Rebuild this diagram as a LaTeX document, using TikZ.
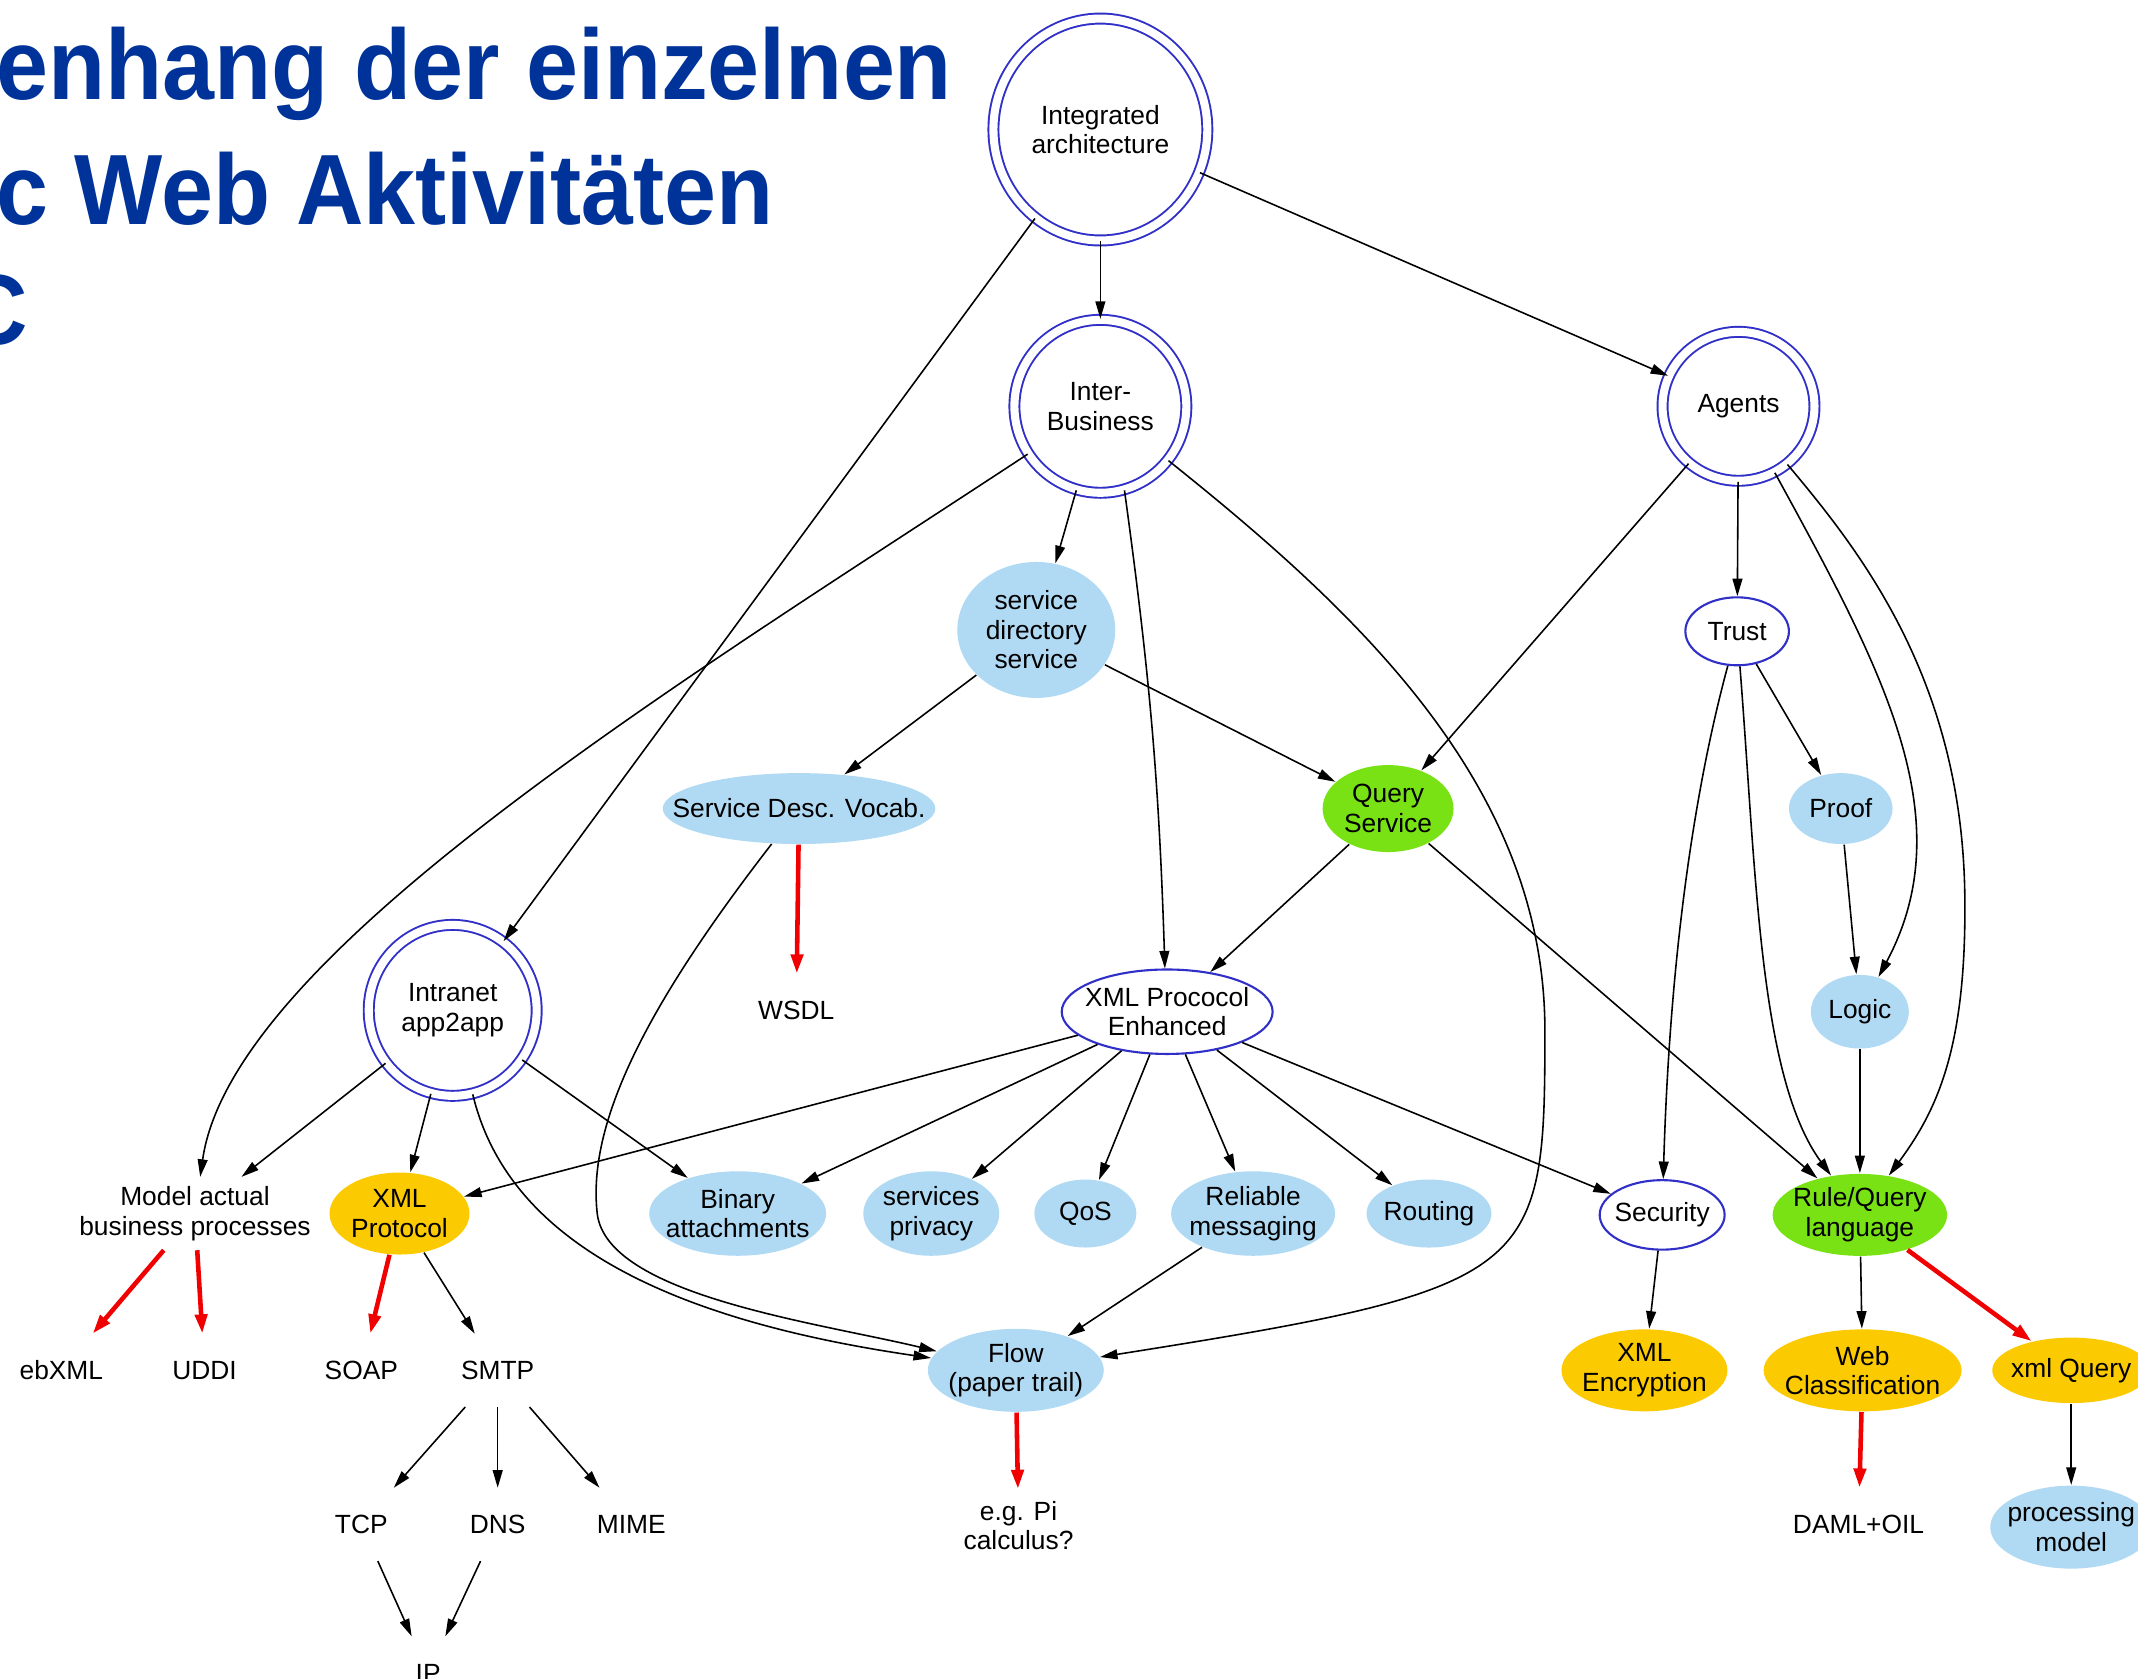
\documentclass[tikz,border=0pt]{standalone}
\usepackage{fontspec}
\usepackage{graphicx}
\setmainfont{Liberation Sans}
\usetikzlibrary{shapes.geometric,arrows.meta}

\definecolor{ringblue}{RGB}{48,48,200}
\definecolor{sky}{RGB}{176,218,244}
\definecolor{goldc}{RGB}{252,202,0}
\definecolor{limec}{RGB}{120,226,20}
\definecolor{redc}{RGB}{240,0,0}
\definecolor{titleblue}{RGB}{0,51,153}

% zero-width line, so that an ellipse takes its size from minimum width/height only
\newcommand{\zw}[1]{\makebox[0pt]{#1}}

\tikzset{
  lbl/.style={font=\fontsize{7.5}{8.4}\selectfont, align=center, text=black},
  dring/.style={lbl, ellipse, draw=ringblue, line width=0.55pt, double=white,
                double distance=2.3pt, fill=white, inner sep=0pt},
  bluering/.style={lbl, ellipse, draw=ringblue, line width=0.6pt, fill=white, inner sep=0pt},
  skyell/.style={lbl, ellipse, fill=sky, inner sep=0pt},
  goldell/.style={lbl, ellipse, fill=goldc, inner sep=0pt},
  greenell/.style={lbl, ellipse, fill=limec, inner sep=0pt},
  plain/.style={lbl, rectangle, inner xsep=2pt, inner ysep=0pt, minimum height=0.72cm},
  link/.style={-{Triangle[length=5pt,width=2.8pt]}, line width=0.45pt, black},
  redlink/.style={-{Triangle[length=5.5pt,width=3.4pt]}, line width=1.3pt, redc},
  titletext/.style={font=\fontsize{28.45}{30}\selectfont\bfseries, text=titleblue, inner sep=0pt},
}

\begin{document}
\begin{tikzpicture}[x=0.0136352cm, y=-0.0136352cm]
\fill[white] (0,0) rectangle (1568,1231);
\useasboundingbox (0,0) rectangle (1568,1231);

% heading
\node[titletext, anchor=base west] (title1) at (-3,73.3) {\scalebox{0.935}[1]{enhang der einzelnen}};
\node[titletext, anchor=base west] (title2) at (-3,165) {\scalebox{0.935}[1]{c Web Aktivitäten}};
\node[titletext, anchor=base east] (title3) at (21,253) {\scalebox{0.935}[1]{C}};

% top level areas
\node[dring, minimum width=2.14cm, minimum height=2.22cm] (int) at (807,95) {\zw{Integrated}\\\zw{architecture}};
\node[dring, minimum width=1.72cm, minimum height=1.73cm] (ib) at (807,298) {\zw{Inter-}\\\zw{Business}};
\node[dring, minimum width=1.52cm, minimum height=1.49cm] (ag) at (1275,298) {\zw{Agents}};
\node[dring, minimum width=1.68cm, minimum height=1.71cm] (intra) at (332,741) {\zw{Intranet}\\\zw{app2app}};

% second level
\node[skyell, minimum width=1.58cm, minimum height=1.36cm] (sds) at (760,462) {\zw{service}\\\zw{directory}\\\zw{service}};
\node[bluering, minimum width=1.036cm, minimum height=0.68cm] (trust) at (1274,463) {\zw{Trust}};
\node[skyell, minimum width=2.727cm, minimum height=0.709cm] (sdv) at (586,593) {\zw{Service Desc. Vocab.}};
\node[greenell, minimum width=1.31cm, minimum height=0.87cm] (qs) at (1018,593) {\zw{Query}\\\zw{Service}};
\node[skyell, minimum width=1.036cm, minimum height=0.709cm] (proof) at (1350,593) {\zw{Proof}};
\node[plain] (wsdl) at (584,741) {WSDL};
\node[bluering, minimum width=2.11cm, minimum height=0.845cm] (xmlpe) at (856,742) {\zw{XML Prococol}\\\zw{Enhanced}};
\node[skyell, minimum width=0.98cm, minimum height=0.736cm] (logic) at (1364,742) {\zw{Logic}};

% main row
\node[plain] (model) at (143,890) {Model actual\\business processes};
\node[goldell, minimum width=1.40cm, minimum height=0.82cm] (xmlp) at (293,890) {\zw{XML}\\\zw{Protocol}};
\node[skyell, minimum width=1.77cm, minimum height=0.845cm] (bin) at (541,890) {\zw{Binary}\\\zw{attachments}};
\node[skyell, minimum width=1.36cm, minimum height=0.845cm] (priv) at (683,890) {\zw{services}\\\zw{privacy}};
\node[skyell, minimum width=1.02cm, minimum height=0.68cm] (qos) at (796,890) {\zw{QoS}};
\node[skyell, minimum width=1.64cm, minimum height=0.845cm] (rel) at (919,890) {\zw{Reliable}\\\zw{messaging}};
\node[skyell, minimum width=1.25cm, minimum height=0.68cm] (rout) at (1048,890) {\zw{Routing}};
\node[bluering, minimum width=1.25cm, minimum height=0.695cm] (sec) at (1219,891) {\zw{Security}};
\node[greenell, minimum width=1.745cm, minimum height=0.82cm] (rq) at (1364,891) {\zw{Rule/Query}\\\zw{language}};

% lower rows
\node[plain] (ebxml) at (45,1005) {ebXML};
\node[plain] (uddi) at (150,1005) {UDDI};
\node[plain] (soap) at (265,1005) {SOAP};
\node[plain] (smtp) at (365,1005) {SMTP};
\node[skyell, minimum width=1.76cm, minimum height=0.83cm] (flow) at (745,1005) {\zw{Flow}\\\zw{(paper trail)}};
\node[goldell, minimum width=1.66cm, minimum height=0.82cm] (xenc) at (1206,1005) {\zw{XML}\\\zw{Encryption}};
\node[goldell, minimum width=1.98cm, minimum height=0.82cm] (webc) at (1366,1005) {\zw{Web}\\\zw{Classification}};
\node[goldell, minimum width=1.58cm, minimum height=0.655cm] (xq) at (1519,1005) {\zw{xml Query}};

\node[plain] (tcp) at (265,1118) {TCP};
\node[plain] (dns) at (365,1118) {DNS};
\node[plain] (mime) at (463,1118) {MIME};
\node[plain] (pi) at (747,1119) {e.g. Pi\\calculus?};
\node[plain] (daml) at (1363,1118) {DAML+OIL};
\node[skyell, minimum width=1.62cm, minimum height=0.83cm] (proc) at (1519,1120) {\zw{processing}\\\zw{model}};
\node[plain] (ip) at (314,1227) {IP};

% connectors from the top areas
\draw[link] (int) -- (ib);
\draw[link] (int) -- (ag);
\draw[link] (int) -- (intra);

\draw[link] (ib) .. controls (500,500) and (170,700) .. (model);
\draw[link] (ib) -- (sds);
\draw[link] (ib.-74) to[bend left=3] (xmlpe.93);
\draw[link] (ib) .. controls (1000,452) and (1135,580) .. (1133,760)
               .. controls (1133,935) and (1125,945) .. (flow);

\draw[link] (sds) -- (sdv);
\draw[link] (sds) -- (qs);
\draw[redlink] (sdv) -- (wsdl);
\draw[link] (sdv) .. controls (480,730) and (430,820) .. (438,890)
                .. controls (445,950) and (600,970) .. (flow);

\draw[link] (ag) -- (qs);
\draw[link] (ag) -- (trust);
\draw[link] (ag) .. controls (1380,490) and (1440,600) .. (logic);
\draw[link] (ag) .. controls (1365,405) and (1440,500) .. (1441,660)
               .. controls (1442,770) and (1420,815) .. (rq);

\draw[link] (trust) -- (proof);
\draw[link] (trust) .. controls (1245,570) and (1225,690) .. (sec);
\draw[link] (trust) .. controls (1288,640) and (1290,790) .. (rq);
\draw[link] (proof) -- (logic);
\draw[link] (logic) -- (rq);

\draw[link] (qs) -- (xmlpe);
\draw[link] (qs) -- (rq);

\draw[link] (intra) -- (model);
\draw[link] (intra) -- (xmlp);
\draw[link] (intra) -- (bin);
\draw[link] (intra) .. controls (370,900) and (470,965) .. (flow);

% fan-out of the enhanced protocol
\draw[link] (xmlpe) -- (xmlp);
\draw[link] (xmlpe) -- (bin);
\draw[link] (xmlpe) -- (priv);
\draw[link] (xmlpe) -- (qos);
\draw[link] (xmlpe) -- (rel);
\draw[link] (xmlpe) -- (rout);
\draw[link] (xmlpe) -- (sec);
\draw[link] (rel) -- (flow);

% lower levels
\draw[redlink] (model) -- (ebxml);
\draw[redlink] (model) -- (uddi);
\draw[redlink] (xmlp) -- (soap);
\draw[link] (xmlp) -- (smtp);
\draw[link] (smtp) -- (tcp);
\draw[link] (smtp) -- (dns);
\draw[link] (smtp) -- (mime);
\draw[link] (tcp) -- (ip);
\draw[link] (dns) -- (ip);
\draw[redlink] (flow) -- (pi);
\draw[link] (sec) -- (xenc);
\draw[link] (rq) -- (webc);
\draw[redlink] (rq) -- (xq);
\draw[redlink] (webc) -- (daml);
\draw[link] (xq) -- (proc);
\end{tikzpicture}
\end{document}
